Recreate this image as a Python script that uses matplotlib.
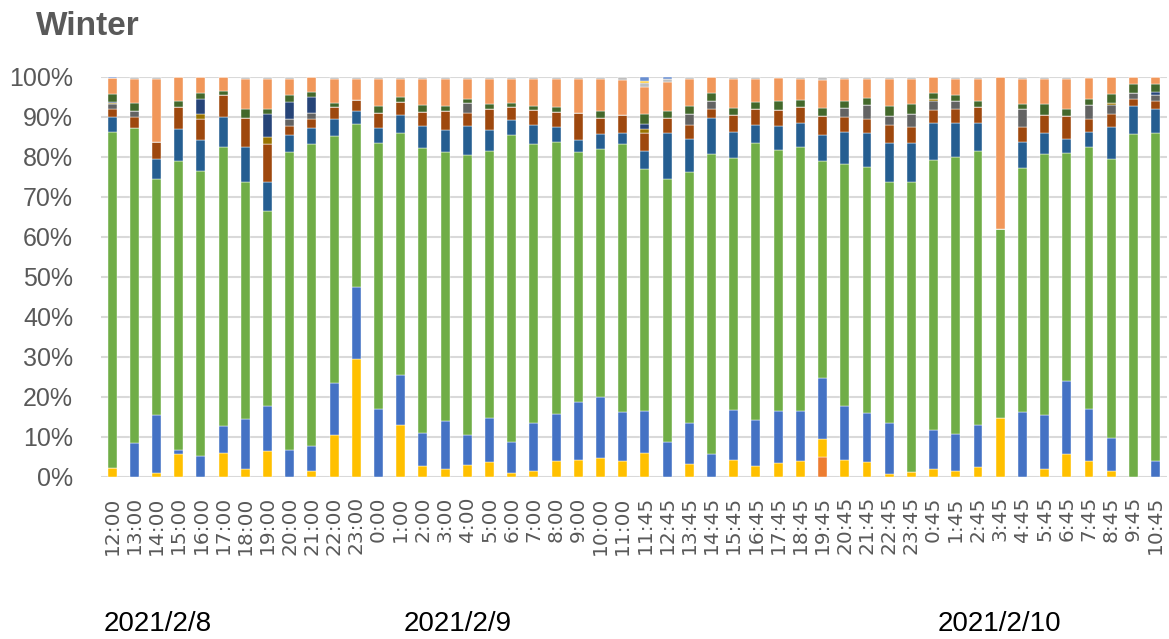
import matplotlib.pyplot as plt
import matplotlib.transforms as mtransforms
import numpy as np

# 時刻ラベル (48本)
times = ["12:00", "13:00", "14:00", "15:00", "16:00", "17:00", "18:00", "19:00",
         "20:00", "21:00", "22:00", "23:00", "0:00", "1:00", "2:00", "3:00",
         "4:00", "5:00", "6:00", "7:00", "8:00", "9:00", "10:00", "11:00",
         "11:45", "12:45", "13:45", "14:45", "15:45", "16:45", "17:45", "18:45",
         "19:45", "20:45", "21:45", "22:45", "23:45", "0:45", "1:45", "2:45",
         "3:45", "4:45", "5:45", "6:45", "7:45", "8:45", "9:45", "10:45"]

dates = ["2021/2/8", "2021/2/9", "2021/2/10"]
date_pos = [-0.37, 13.15, 37.2]

# 各系列の値 (%)
orange = [0]*32 + [4.9] + [0]*15
yellow = [2.25, 0, 0.85, 5.6, 0, 6.0, 1.8, 6.5, 0, 1.4, 10.4, 29.5,
          0, 12.9, 2.7, 2.0, 2.9, 3.75, 0.9, 1.4, 4.0, 4.25, 4.75, 3.8,
          5.9, 0, 3.2, 0, 4.25, 2.8, 3.5, 3.8, 4.5, 4.1, 3.6, 0.7,
          1.2, 1.9, 1.3, 2.3, 14.75, 0, 1.8, 5.7, 4.0, 1.5, 0, 0]
blue = [0, 8.5, 14.65, 1.15, 5.3, 6.6, 12.7, 11.1, 6.6, 6.4, 13.1, 17.9,
        16.9, 12.6, 8.2, 12.0, 7.5, 11.0, 7.85, 12.0, 11.75, 14.5, 15.05, 12.45,
        10.6, 8.75, 10.3, 5.6, 12.35, 11.5, 12.9, 12.5, 15.35, 13.6, 12.4, 12.6,
        0, 9.7, 9.4, 10.6, 0, 16.1, 13.7, 18.2, 13.0, 8.2, 0, 4.0]
green = [83.95, 78.75, 58.8, 72.05, 71.1, 69.8, 59.1, 48.9, 74.7, 75.4, 61.75, 40.9,
         66.4, 60.5, 71.3, 67.2, 70.1, 66.65, 76.85, 69.7, 68.05, 62.45, 62.0, 66.85,
         60.4, 65.65, 62.7, 75.0, 63.1, 69.3, 65.3, 66.2, 54.05, 60.5, 61.3, 60.4,
         72.6, 67.65, 69.2, 68.5, 47.25, 61.1, 65.25, 57.0, 65.5, 69.6, 85.75, 82.1]
dark_blue = [3.65, 0, 5.0, 8.0, 7.9, 7.6, 8.75, 7.3, 4.2, 4.0, 4.2, 3.25,
             3.9, 4.3, 5.6, 5.6, 7.1, 5.3, 3.7, 4.9, 3.7, 3.0, 3.8, 2.75,
             4.5, 11.4, 8.25, 9.1, 6.5, 4.4, 6.1, 5.8, 6.5, 8.0, 8.7, 9.8,
             9.75, 9.3, 8.4, 7.1, 0, 6.5, 5.1, 3.4, 3.6, 8.0, 7.1, 6.0]
brown = [2.0, 2.75, 4.4, 5.5, 5.2, 5.3, 7.25, 9.5, 2.3, 2.2, 2.9, 2.6,
         3.75, 3.25, 3.4, 4.6, 3.25, 5.1, 3.1, 3.6, 3.6, 6.8, 4.0, 4.6,
         4.6, 3.75, 3.7, 2.3, 4.4, 4.0, 4.0, 4.0, 4.8, 3.7, 3.5, 4.3,
         4.0, 3.1, 3.6, 4.0, 0, 3.9, 4.5, 5.75, 3.25, 3.4, 1.6, 1.9]
gray = [1.35, 1.5, 0, 0, 0, 0, 0, 0, 1.75, 1.5, 0, 0,
        0, 0, 0, 0, 2.5, 0, 0, 0, 0, 0, 0, 0,
        0, 0, 2.6, 1.8, 0, 0, 0, 0, 0, 2.4, 3.4, 2.3,
        3.1, 2.2, 2.0, 0, 0, 4.5, 0, 0, 3.6, 2.2, 1.7, 1.6]
gold = [0.33, 0, 0, 0, 1.2, 0, 0, 1.7, 0, 0, 0, 0,
        0, 0, 0, 0, 0, 0, 0, 0, 0, 0, 0, 0,
        0.8, 0, 0, 0, 0, 0, 0, 0, 0, 0, 0, 0,
        0, 0.5, 0, 0, 0, 0, 0, 0, 0, 0.4, 0, 0]
navy = [0.25, 0, 0, 0, 3.7, 0, 0, 5.7, 4.2, 4.0, 0, 0,
        0, 0, 0, 0, 0, 0, 0, 0, 0, 0, 0, 0,
        1.25, 0, 0, 0, 0, 0, 0, 0, 0, 0, 0, 0,
        0, 0, 0, 0, 0, 0, 0, 0, 0, 0, 0, 0.6]
dark_green = [1.83, 2.0, 0, 1.7, 1.5, 1.2, 2.4, 1.25, 1.7, 1.3, 1.2, 0,
              1.7, 1.25, 1.75, 1.3, 1.1, 1.3, 1.1, 1.1, 1.25, 0, 1.75, 0,
              2.6, 1.9, 2.1, 2.0, 1.7, 1.7, 2.2, 1.8, 2.1, 1.7, 1.8, 2.6,
              2.5, 1.5, 1.6, 1.4, 0, 1.2, 2.8, 1.8, 1.4, 2.3, 2.1, 2.0]
light_orange = [4.0, 5.9, 15.6, 5.8, 4.0, 3.3, 7.4, 7.5, 4.0, 3.7, 5.9, 5.2,
                6.75, 4.7, 6.4, 6.75, 5.0, 6.25, 6.0, 6.75, 7.1, 8.3, 7.9, 8.8,
                6.8, 7.25, 6.7, 4.0, 7.2, 5.7, 5.7, 5.25, 7.0, 5.4, 4.7, 6.7,
                6.2, 4.2, 3.9, 5.4, 38.0, 6.2, 6.25, 7.5, 5.25, 4.2, 1.7, 1.7]
light_gray = [0, 0.6, 0.67, 0.2, 0.2, 0.2, 0.6, 0.6, 0.6, 0.2, 0.6, 0.67,
              0.6, 0.5, 0.67, 0.6, 0.6, 0.6, 0.6, 0.6, 0.6, 0.67, 0.67, 0.75,
              0.8, 0.7, 0.6, 0.2, 0.6, 0.67, 0.4, 0.6, 0.75, 0.67, 0.6, 0.6,
              0.67, 0, 0.6, 0.67, 0, 0.6, 0.6, 0.6, 0.4, 0.2, 0.2, 0.2]
light_yellow = [0]*24 + [0.6] + [0]*23
light_blue = [0.42] + [0]*23 + [1.1, 0.6] + [0]*22

series = [orange, yellow, blue, green, dark_blue, brown, gray, gold, navy,
          dark_green, light_orange, light_gray, light_yellow, light_blue]
colors = ["#ED7D31", "#FFC000", "#4472C4", "#70AD47", "#255E91", "#9E480E",
          "#636363", "#997300", "#264478", "#43682B", "#F1975A", "#BFBFBF",
          "#FFCD33", "#698ED0"]

data = np.array(series, dtype=float)
data = data / data.sum(axis=0) * 100  # 100%積み上げ

fig = plt.figure(figsize=(11.69, 6.39), dpi=100)
ax = fig.add_axes([0.0864, 0.254, 0.9116, 0.626])

x = np.arange(len(times))
bottom = np.zeros(len(times))
for vals, c in zip(data, colors):
    ax.bar(x, vals, bottom=bottom, width=0.4, color=c, edgecolor="white",
           linewidth=0.3, zorder=3)
    bottom += vals

ax.set_xlim(-0.5, len(times) - 0.5)
ax.set_ylim(0, 100)
ax.set_yticks(np.arange(0, 101, 10))
ax.set_yticklabels([f"{v}%" for v in range(0, 101, 10)],
                   fontsize=18, color="#595959", family="Liberation Sans")
ax.set_xticks(x)
ax.set_xticklabels(times, rotation=90, fontsize=14.5, color="#595959",
                   family="DejaVu Sans", va="top")
ax.tick_params(axis="y", length=0, pad=20)
ax.tick_params(axis="x", length=0, pad=14)
ax.grid(axis="y", color="#D9D9D9", linewidth=1.5, zorder=0)
for s in ax.spines.values():
    s.set_visible(False)

# 日付ラベル
trans = mtransforms.blended_transform_factory(ax.transData, fig.transFigure)
for d, p in zip(dates, date_pos):
    ax.text(p, 0.012, d, transform=trans, ha="left", va="baseline",
            fontsize=20, color="black", family="Liberation Sans")

fig.text(0.031, 0.945, "Winter", fontsize=24, fontweight="bold",
         color="#595959", family="Liberation Sans", va="baseline")

fig.savefig("out.png", dpi=100)
